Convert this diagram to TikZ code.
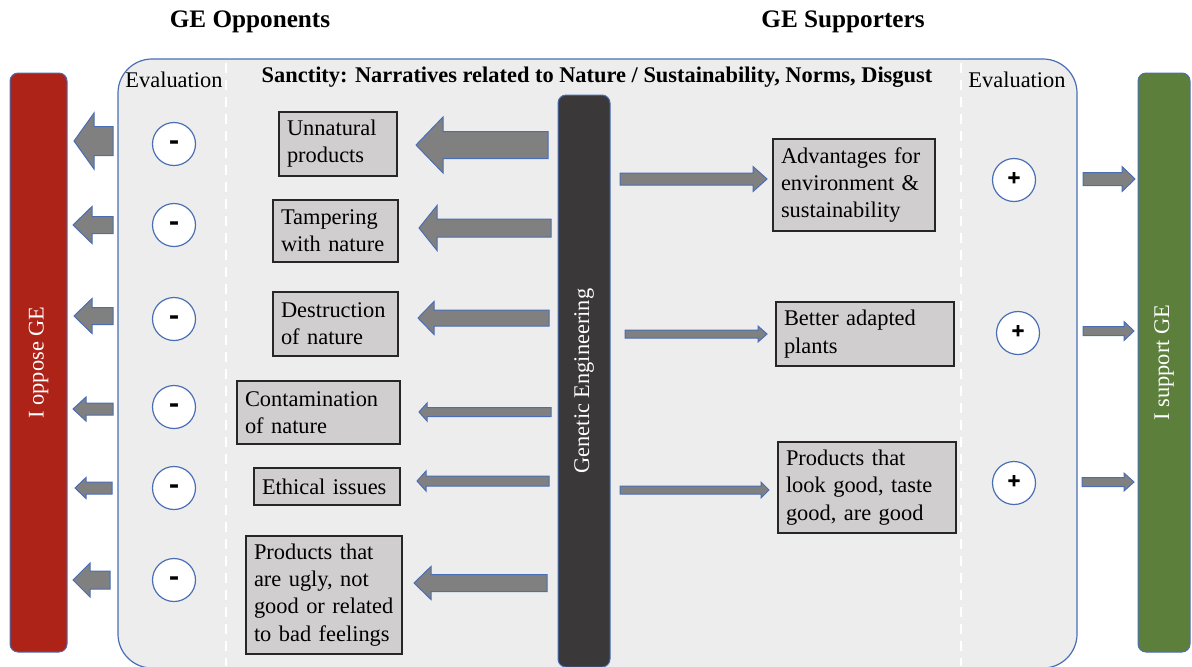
\documentclass[tikz,border=0pt]{standalone}
\usepackage{fontspec}
\setmainfont{Liberation Serif}
\newfontfamily\heavyfont{Liberation Serif}[FakeBold=2.5]
\newfontfamily\plusfont{Liberation Serif}[FakeBold=5]
\definecolor{panelfill}{HTML}{EDEDED}
\definecolor{edgeblue}{HTML}{4A6EB5}
\definecolor{redbar}{HTML}{AE2318}
\definecolor{greenbar}{HTML}{5C803C}
\definecolor{darkbar}{HTML}{3A3838}
\definecolor{boxfill}{HTML}{D0CECE}
\definecolor{arrowfill}{HTML}{808080}
\tikzset{
  basefont/.style={font=\fontsize{11.2}{13.6}\selectfont},
  panel/.style={draw=edgeblue, line width=0.6pt, fill=panelfill, rounded corners=17pt},
  sep/.style={draw=white, line width=1.4pt, dash pattern=on 5pt off 3.5pt},
  bar/.style={basefont, rotate=90, draw=edgeblue, line width=0.5pt, text=white, rounded corners=4pt, inner sep=0pt},
  tbox/.style={basefont, draw=black!85, line width=0.7pt, fill=boxfill, align=left, inner xsep=4pt, inner ysep=0pt, anchor=center},
  evalc/.style={circle, draw=edgeblue, line width=0.6pt, fill=white, minimum size=21.5pt, inner sep=0pt},
  barrow/.style={draw=edgeblue, line width=0.5pt, fill=arrowfill, line join=miter},
  heading/.style={font=\fontsize{12.6}{14}\selectfont\bfseries},
  lbl/.style={basefont}
}
% tail x, tip x, y, shaft height, head height, head base x
\newcommand\blockarrow[6]{%
  \draw[barrow] (#1,#3-#4/2) -- (#6,#3-#4/2) -- (#6,#3-#5/2) -- (#2,#3) -- (#6,#3+#5/2) -- (#6,#3+#4/2) -- (#1,#3+#4/2) -- cycle;}
\newcommand\minussign{\smash{\raisebox{-0.23em}{\fontsize{14}{14}\selectfont\heavyfont\bfseries -}}}
\newcommand\plussign{\smash{\raisebox{-0.25em}{\fontsize{11}{11}\selectfont\plusfont\bfseries +}}}
\begin{document}
\begin{tikzpicture}[x=0.5pt, y=-0.5pt]
\useasboundingbox (0,0) rectangle (1192,666);
\begin{scope}
\clip (0,0) rectangle (1192,666);
% main panel
\path[panel] (118,59) rectangle (1077,668);
\coordinate (sl1) at (226,63); \coordinate (sl2) at (226,666);
\coordinate (sr1) at (961,63); \coordinate (sr2) at (961,666);
\draw[sep] (sl1) -- (sl2);
\draw[sep] (sr1) -- (sr2);
% side bars
\node[bar, fill=redbar, minimum width=289.5pt, minimum height=28.5pt] (oppose) at (38.5,362.5) {I oppose GE};
\node[bar, fill=greenbar, minimum width=289.5pt, minimum height=26pt] (support) at (1164,362.5) {I support GE};
\node[bar, fill=darkbar, minimum width=286pt, minimum height=26pt] (ge) at (584,381) {Genetic Engineering};
\end{scope}
% headings
\node[heading] (hopp) at (250,22) {GE Opponents};
\node[heading] (hsup) at (843,22) {GE Supporters};
\node[lbl, font=\fontsize{11.2}{13.6}\selectfont\bfseries] (title) at (597,77) {Sanctity: Narratives related to Nature / Sustainability, Norms, Disgust};
\node[lbl] (evl) at (174,80) {Evaluation};
\node[lbl] (evr) at (1017,80) {Evaluation};
% left boxes
\node[tbox, minimum width=59pt, minimum height=32pt, text width=51pt] (l1) at (338,144) {Unnatural\\products};
\node[tbox, minimum width=62.5pt, minimum height=31pt, text width=54.5pt] (l2) at (335.5,231) {Tampering\\with nature};
\node[tbox, minimum width=62.5pt, minimum height=32pt, text width=54.5pt] (l3) at (335.5,324) {Destruction\\of nature};
\node[tbox, minimum width=81.5pt, minimum height=31.5pt, text width=73.5pt] (l4) at (318.5,412.5) {Contamination\\of nature};
\node[tbox, minimum width=73pt, minimum height=18.5pt, text width=65pt] (l5) at (327,486.5) {Ethical issues};
\node[tbox, minimum width=78pt, minimum height=59pt, text width=70pt] (l6) at (324,595) {Products that\\are ugly, not\\good or related\\to bad feelings};
% right boxes
\node[tbox, minimum width=81pt, minimum height=46pt, text width=73pt] (r1) at (854,185) {Advantages for\\environment \&\\sustainability};
\node[tbox, minimum width=89pt, minimum height=32pt, text width=81pt] (r2) at (865,334) {Better adapted\\plants};
\node[tbox, minimum width=89pt, minimum height=45.5pt, text width=81pt] (r3) at (867,487.5) {Products that\\look good, taste\\good, are good};
% evaluation circles
\node[evalc] (m1) at (174,144) {\minussign};
\node[evalc] (m2) at (174,225) {\minussign};
\node[evalc] (m3) at (174,319) {\minussign};
\node[evalc] (m4) at (174,407) {\minussign};
\node[evalc] (m5) at (174,488) {\minussign};
\node[evalc] (m6) at (174,580) {\minussign};
\node[evalc] (p1) at (1014,180) {\plussign};
\node[evalc] (p2) at (1018,333) {\plussign};
\node[evalc] (p3) at (1014,483) {\plussign};
% inner left arrows (GE -> opposing narratives)
\blockarrow{548}{416}{145}{27}{56}{443}
\blockarrow{551}{419}{228}{18}{45}{437}
\blockarrow{549}{418}{318}{16}{33}{434}
\blockarrow{551}{419}{412}{9}{18}{427}
\blockarrow{549}{417}{481}{10}{20}{426}
\blockarrow{547}{414}{583}{17}{33}{431}
% outer left arrows (to I oppose GE)
\blockarrow{113}{74}{141}{29}{56}{94}
\blockarrow{113}{73}{225}{17}{37}{92}
\blockarrow{113}{74}{316}{17}{35}{92}
\blockarrow{113}{73}{409}{12}{24}{86}
\blockarrow{112}{75}{488}{12}{21}{86}
\blockarrow{110}{73}{580}{18}{34}{90}
% inner right arrows (GE -> supporting narratives)
\blockarrow{620}{767}{179}{12}{25}{753}
\blockarrow{625}{767}{334}{8}{16}{758}
\blockarrow{620}{769}{490}{8}{16}{761}
% outer right arrows (to I support GE)
\blockarrow{1083}{1135}{179}{13}{25}{1122}
\blockarrow{1083}{1134}{331}{9}{19}{1124}
\blockarrow{1082}{1134}{482}{9}{18}{1124}
\end{tikzpicture}
\end{document}
